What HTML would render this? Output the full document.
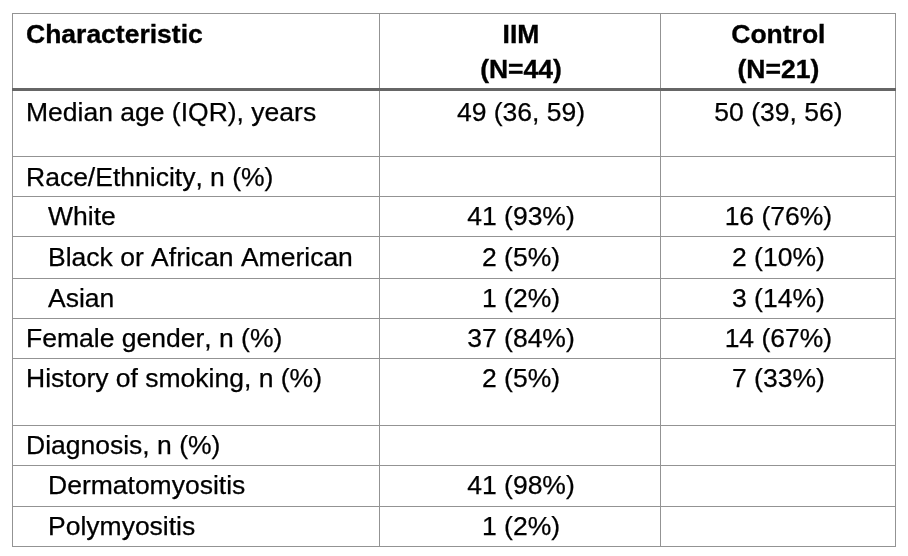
<!DOCTYPE html>
<html><head><meta charset="utf-8">
<style>
html,body{margin:0;padding:0;background:#fff;}
body{width:908px;height:556px;position:relative;overflow:hidden;font-family:"Liberation Sans",Arial,sans-serif;font-size:26.5px;font-kerning:none;color:#000;}
.l{position:absolute;background:#939393;}
.t{position:absolute;white-space:nowrap;line-height:30px;-webkit-text-stroke:0.25px #000;}
.c{text-align:center;}
.b{font-weight:bold;-webkit-text-stroke:0.35px #000;}
</style></head><body>
<!-- vertical lines -->
<div class="l" style="left:12px;top:13px;width:1px;height:534px"></div>
<div class="l" style="left:379px;top:13px;width:1px;height:534px"></div>
<div class="l" style="left:660px;top:13px;width:1px;height:534px"></div>
<div class="l" style="left:895px;top:13px;width:1px;height:534px"></div>
<!-- horizontal lines -->
<div class="l" style="left:12px;top:13px;width:884px;height:1px"></div>
<div class="l" style="left:12px;top:88px;width:884px;height:3px;background:#666"></div>
<div class="l" style="left:12px;top:156px;width:884px;height:1px"></div>
<div class="l" style="left:12px;top:196px;width:884px;height:1px"></div>
<div class="l" style="left:12px;top:236px;width:884px;height:1px"></div>
<div class="l" style="left:12px;top:278px;width:884px;height:1px"></div>
<div class="l" style="left:12px;top:318px;width:884px;height:1px"></div>
<div class="l" style="left:12px;top:358px;width:884px;height:1px"></div>
<div class="l" style="left:12px;top:425px;width:884px;height:1px"></div>
<div class="l" style="left:12px;top:465px;width:884px;height:1px"></div>
<div class="l" style="left:12px;top:506px;width:884px;height:1px"></div>
<div class="l" style="left:12px;top:546px;width:884px;height:1px"></div>

<div class="t b" style="left:26px;top:19px">Characteristic</div>
<div class="t b c" style="left:381px;width:280px;top:19px">IIM</div>
<div class="t b c" style="left:381px;width:280px;top:54px">(N=44)</div>
<div class="t b c" style="left:661.4px;width:234px;top:19px">Control</div>
<div class="t b c" style="left:661.4px;width:234px;top:54px">(N=21)</div>

<div class="t" style="left:26px;top:97px">Median age (IQR), years</div>
<div class="t c" style="left:381px;width:280px;top:97px">49 (36, 59)</div>
<div class="t c" style="left:661.4px;width:234px;top:97px">50 (39, 56)</div>

<div class="t" style="left:26px;top:161.5px">Race/Ethnicity, n (%)</div>

<div class="t" style="left:48px;top:201.4px">White</div>
<div class="t c" style="left:381px;width:280px;top:201.4px">41 (93%)</div>
<div class="t c" style="left:661.4px;width:234px;top:201.4px">16 (76%)</div>

<div class="t" style="left:48px;top:242.4px">Black or African American</div>
<div class="t c" style="left:381px;width:280px;top:242.4px">2 (5%)</div>
<div class="t c" style="left:661.4px;width:234px;top:242.4px">2 (10%)</div>

<div class="t" style="left:48px;top:283.3px">Asian</div>
<div class="t c" style="left:381px;width:280px;top:283.3px">1 (2%)</div>
<div class="t c" style="left:661.4px;width:234px;top:283.3px">3 (14%)</div>

<div class="t" style="left:26px;top:323.4px">Female gender, n (%)</div>
<div class="t c" style="left:381px;width:280px;top:323.4px">37 (84%)</div>
<div class="t c" style="left:661.4px;width:234px;top:323.4px">14 (67%)</div>

<div class="t" style="left:26px;top:363.4px">History of smoking, n (%)</div>
<div class="t c" style="left:381px;width:280px;top:363.4px">2 (5%)</div>
<div class="t c" style="left:661.4px;width:234px;top:363.4px">7 (33%)</div>

<div class="t" style="left:26px;top:430.3px">Diagnosis, n (%)</div>

<div class="t" style="left:48px;top:470.3px">Dermatomyositis</div>
<div class="t c" style="left:381px;width:280px;top:470.3px">41 (98%)</div>

<div class="t" style="left:48px;top:511.1px">Polymyositis</div>
<div class="t c" style="left:381px;width:280px;top:511.1px">1 (2%)</div>
</body></html>
